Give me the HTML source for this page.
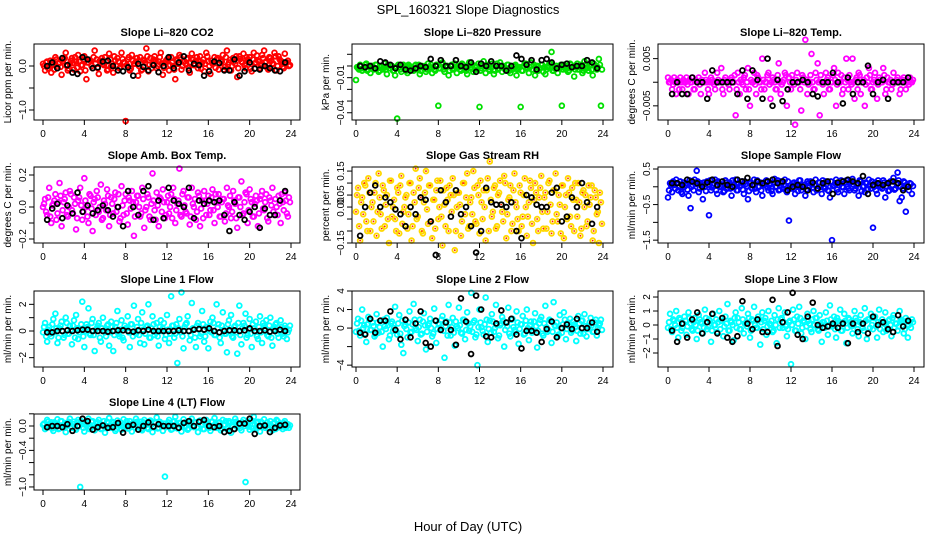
<!DOCTYPE html>
<html><head><meta charset="utf-8"><style>
html,body{margin:0;padding:0;background:#fff;}
svg{display:block;font-family:"Liberation Sans",Arial,sans-serif;}
</style></head><body>
<svg id="chart" width="936" height="540" viewBox="0 0 936 540">
<text x="468" y="14" font-size="13" text-anchor="middle">SPL_160321  Slope Diagnostics</text>
<text x="468" y="531" font-size="13" text-anchor="middle">Hour of Day (UTC)</text>
</svg>
<script>
// shared x positions (hours)
const xTicks = [0,4,8,12,16,20,24];
const coloredHours = Array.from({length:120},(_, i)=>i*0.2);
const coreHours = Array.from({length:120},(_, i)=>0.1+i*0.2);
const blackHours = Array.from({length:48},(_, i)=>0.4+i*0.49);

// Panel 1: CO2
const co2Colored = [0.05,-0.1,0.1,0.0,-0.15,0.12,0.2,-0.05,0.08,-0.2,0.15,0.3,-0.1,0.05,0.18,-0.08,0.1,0.25,-0.12,0.02,0.22,-0.3,0.08,0.12,-0.05,0.35,0.15,-0.18,0.1,0.05,0.2,-0.1,0.28,0.0,-0.15,0.12,0.18,-0.05,0.3,0.08,-1.25,0.15,-0.1,0.25,0.05,0.1,-0.22,0.2,-0.08,0.12,0.4,-0.12,0.18,0.05,0.22,-0.05,0.1,0.3,-0.2,0.08,0.15,-0.1,0.2,0.0,-0.3,0.12,0.25,-0.08,0.1,0.05,0.18,-0.15,0.28,0.02,0.12,-0.05,0.22,0.08,-0.12,0.3,0.1,-0.18,0.05,0.2,0.15,-0.08,0.12,0.25,-0.02,0.35,0.08,-0.1,0.18,0.05,-0.25,0.22,0.1,0.28,-0.05,0.15,0.2,-0.12,0.3,0.08,0.12,-0.05,0.25,0.35,0.1,-0.08,0.18,0.05,0.3,-0.1,0.22,0.12,-0.02,0.28,0.08,0.0];
const co2Core = [0.0,0.08,-0.05,0.12,0.03,-0.08,0.15,0.05,-0.02,0.1,0.18,0.0,-0.06,0.12,0.07,0.2,-0.04,0.1,0.02,0.15,-0.1,0.08,0.14,0.0,0.2,0.06,-0.05,0.12,0.18,0.02,0.1,-0.08,0.15,0.05,0.22,0.0,0.1,-0.03,0.16,0.08,0.02,0.2,-0.06,0.12,0.05,0.18,0.0,-0.1,0.14,0.08,0.22,0.03,-0.05,0.15,0.1,0.0,0.2,0.06,-0.04,0.12,0.18,0.02,0.08,-0.08,0.15,0.05,0.2,0.0,0.1,0.16,-0.05,0.08,0.14,0.02,0.2,0.1,-0.06,0.15,0.05,0.22,0.0,0.12,0.08,-0.04,0.18,0.06,0.1,-0.08,0.2,0.03,0.14,0.0,0.1,0.22,-0.05,0.16,0.08,0.02,0.2,0.12,-0.06,0.15,0.05,0.24,0.1,0.0,0.18,0.08,-0.04,0.2,0.12,0.05,0.22,0.0,0.15,0.1,-0.05,0.08,0.12,0.02];
const co2Black = [0.0,0.08,-0.05,0.18,0.02,-0.15,-0.18,0.2,0.15,-0.05,-0.03,0.1,0.12,0.0,-0.1,-0.12,-0.03,-0.22,0.05,-0.02,-0.1,0.02,-0.14,-0.0,0.2,-0.05,0.08,0.22,-0.1,0.05,0.02,-0.22,-0.12,0.1,0.07,-0.1,-0.1,0.15,-0.22,-0.12,0.08,-0.06,-0.08,0.0,-0.05,-0.1,-0.12,0.08];
// Panel 2: Pressure
const presColored = [-0.012,-0.002,0.001,-0.004,-0.001,0.002,-0.003,-0.006,0.0,-0.002,0.001,-0.005,-0.001,-0.003,0.002,-0.007,-0.002,0.0,-0.004,-0.008,-0.045,-0.001,-0.005,0.001,-0.003,-0.006,0.0,-0.002,-0.004,0.001,-0.003,-0.007,0.0,-0.002,-0.005,0.002,-0.001,-0.006,-0.003,0.001,-0.034,-0.002,0.003,-0.005,-0.001,-0.008,0.0,-0.003,0.002,-0.006,-0.001,-0.004,0.001,-0.002,-0.007,0.003,-0.001,-0.005,0.0,-0.003,-0.035,-0.002,0.004,-0.006,-0.001,-0.004,0.002,-0.007,0.0,-0.003,0.003,-0.005,-0.001,-0.002,0.001,-0.006,-0.003,0.0,-0.008,-0.002,-0.035,-0.004,0.002,-0.001,-0.006,0.003,-0.003,-0.008,0.0,-0.002,0.001,-0.005,-0.007,-0.001,0.002,0.012,-0.004,0.0,-0.006,-0.002,-0.034,0.001,-0.003,-0.005,0.002,-0.001,-0.009,0.0,-0.003,0.001,-0.006,0.004,-0.002,-0.004,0.001,-0.008,0.0,-0.003,0.006,-0.034];
const presCore = [-0.001,-0.003,0.0,-0.002,0.001,-0.004,-0.001,0.0,-0.003,0.001,-0.002,-0.004,0.0,-0.001,-0.003,0.001,-0.002,0.0,-0.004,-0.001,0.001,-0.003,0.0,-0.002,-0.004,0.001,-0.001,-0.003,0.0,-0.002,0.001,-0.004,-0.001,0.0,-0.003,-0.002,0.001,-0.001,-0.004,0.0,-0.002,0.002,-0.003,-0.001,0.0,-0.004,0.001,-0.002,-0.001,0.0,-0.003,0.002,-0.001,-0.004,0.0,-0.002,0.001,-0.003,-0.001,0.002,-0.004,0.0,-0.002,0.001,-0.003,-0.001,0.0,-0.004,0.002,-0.002,-0.001,0.0,-0.003,0.001,-0.004,-0.002,0.0,0.001,-0.003,-0.001,-0.004,0.0,0.002,-0.002,-0.001,-0.003,0.001,0.0,-0.004,-0.002,0.001,-0.001,-0.003,0.0,0.002,-0.004,-0.002,0.0,-0.001,0.001,-0.003,-0.002,0.0,-0.004,0.001,-0.001,-0.003,0.002,0.0,-0.002,-0.004,0.001,-0.001,0.0,-0.003,0.002,-0.002,-0.001,0.001,-0.003];
const presBlack = [0.0,-0.001,0.0,-0.002,0.004,0.003,0.001,-0.002,0.001,-0.003,-0.004,-0.002,0.0,-0.001,0.006,0.0,0.005,0.0,0.0,0.005,0.0,-0.001,0.003,-0.005,0.002,0.0,0.004,0.0,0.0,-0.004,0.0,0.009,0.006,0.001,0.005,-0.003,0.005,0.006,0.003,-0.002,0.001,0.002,-0.001,0.0,0.0,0.005,0.003,-0.002];
// Panel 3: Li-820 Temp
const tempColored = [0.001,0.0,-0.0015,0.001,-0.0025,0.0,0.001,-0.0015,0.0,0.001,-0.0025,0.0,0.001,-0.0015,0.0,0.001,-0.0025,0.0,0.002,0.0,-0.0025,0.001,0.0,-0.0015,0.002,0.0,0.003,-0.0025,0.001,0.0,-0.0015,0.001,0.0,-0.007,0.002,-0.0025,0.0,0.001,-0.0015,0.003,-0.005,0.0,0.002,-0.0025,0.001,0.0,0.005,-0.0015,0.0,0.002,-0.0035,0.001,0.0,-0.0015,0.004,-0.0025,0.0,0.002,-0.005,0.001,-0.0015,0.0,-0.009,0.002,0.0,-0.006,0.001,0.009,-0.0025,0.0,0.006,-0.0015,0.002,0.004,-0.007,0.0,-0.0025,0.002,0.001,-0.0015,0.0,0.003,-0.005,0.002,0.0,-0.0025,0.001,0.005,-0.0015,0.0,0.005,-0.0035,0.001,0.002,-0.0025,0.0,-0.005,0.001,0.003,-0.0015,0.0,0.002,-0.0035,0.001,0.0,0.003,-0.0025,0.001,0.0,-0.0015,0.002,0.0,0.001,-0.0025,0.0,0.001,-0.0015,0.0,0.001,0.0];
const tempCore = [0.0,0.0005,-0.0005,0.0,0.0005,-0.0015,0.0,0.0005,0.0,-0.0005,0.0005,0.0,-0.0015,0.0005,0.0,-0.0005,0.0005,0.0,0.0005,-0.0015,0.0,0.0005,-0.0005,0.0,0.0005,0.0,-0.0015,0.0005,0.0,-0.0005,0.0005,0.0,0.0015,-0.0015,0.0,0.0005,-0.0005,0.0015,0.0,-0.0015,0.0005,0.0,-0.0005,0.0015,0.0,-0.0015,0.0005,0.0,0.0015,-0.0005,0.0,0.0005,-0.0015,0.0015,0.0,-0.0005,0.0005,0.0015,-0.0015,0.0,0.0015,-0.0005,0.0005,0.0,-0.0015,0.0015,0.0,0.0005,-0.0005,0.0015,0.0,-0.0015,0.0005,0.0,0.0015,-0.0005,0.0,0.0005,-0.0015,0.0,0.0015,0.0005,-0.0005,0.0,0.0015,-0.0015,0.0,0.0005,0.0015,-0.0005,0.0,0.0005,-0.0015,0.0015,0.0,0.0005,-0.0005,0.0,0.0015,-0.0015,0.0005,0.0,-0.0005,0.0005,0.0,0.0015,-0.0015,0.0,0.0005,-0.0005,0.0,0.0005,0.0,-0.0015,0.0005,0.0,0.0005,-0.0005,0.0,0.0005];
const tempBlack = [-0.0025,0.0,-0.0025,-0.0025,0.001,0.0,0.0,-0.0035,0.0025,0.0,0.0,-0.0,0.0,-0.0025,0.0025,-0.0035,0.0025,0.0005,-0.0035,0.005,-0.005,0.0005,-0.004,-0.0015,0.0,0.0,0.0005,0.0,-0.0025,-0.003,0.0,0.0,0.002,0.0,-0.0045,0.001,-0.0025,0.0,0.0,0.0035,-0.0025,0.0,0.0005,-0.0035,0.0,0.0,0.0,0.001];
// Panel 4: Amb box temp
const ambColored = [0.0,0.05,-0.05,0.12,-0.1,0.02,0.08,-0.04,0.15,-0.12,0.03,0.09,-0.06,0.1,-0.02,0.06,-0.14,0.04,0.12,-0.08,0.18,0.0,-0.1,0.07,-0.15,0.05,0.1,-0.03,0.14,-0.07,0.02,0.11,-0.12,0.06,-0.04,0.09,0.0,-0.09,0.13,-0.05,0.08,-0.11,0.04,0.1,-0.18,0.03,0.07,-0.06,0.12,-0.13,0.0,0.06,-0.08,0.21,-0.02,0.09,-0.12,0.05,0.11,-0.07,0.03,-0.04,0.08,0.12,-0.1,0.02,0.24,-0.06,0.1,-0.03,0.06,-0.11,0.12,0.0,-0.08,0.09,-0.12,0.04,0.1,-0.05,0.07,-0.02,0.11,-0.1,0.03,0.08,-0.06,0.05,-0.09,0.12,0.0,-0.07,0.1,0.02,-0.13,0.06,0.16,-0.04,0.09,-0.1,0.11,0.03,-0.06,0.07,-0.12,0.05,0.1,-0.02,0.08,-0.09,0.04,0.12,-0.05,0.0,0.07,-0.1,0.03,0.09,-0.04,0.06];
const ambCore = [0.02,-0.03,0.06,-0.06,0.01,0.04,-0.08,0.03,0.07,-0.02,0.05,-0.05,0.0,0.08,-0.04,0.02,-0.07,0.06,0.01,-0.03,0.04,-0.06,0.08,-0.01,0.03,-0.05,0.06,0.0,-0.08,0.04,-0.02,0.07,-0.05,0.02,0.05,-0.03,0.08,-0.07,0.01,0.04,-0.04,0.06,-0.01,0.03,-0.06,0.07,0.0,-0.04,0.05,-0.02,0.08,-0.06,0.02,0.04,-0.08,0.01,0.06,-0.03,0.03,-0.05,0.07,0.0,-0.07,0.05,-0.02,0.04,-0.05,0.08,0.01,-0.04,0.06,-0.06,0.02,0.05,-0.03,0.07,-0.01,-0.07,0.04,0.02,-0.05,0.06,-0.02,0.08,0.0,-0.06,0.03,0.05,-0.04,0.01,0.07,-0.03,0.04,-0.07,0.06,0.0,-0.05,0.03,0.08,-0.02,0.05,-0.06,0.02,0.04,-0.04,0.07,-0.01,0.03,-0.07,0.06,0.01,-0.03,0.05,-0.05,0.02,0.08,-0.02,0.04,-0.06,0.03];
const ambBlack = [-0.08,-0.01,0.02,-0.07,0.01,-0.04,0.09,-0.03,0.01,-0.04,-0.02,0.01,-0.02,-0.06,0.0,-0.12,0.1,0.0,-0.05,0.1,0.13,-0.08,0.04,-0.07,0.12,0.04,0.02,0.0,0.12,-0.07,0.04,0.02,0.04,0.03,0.04,-0.05,-0.15,0.03,-0.05,-0.08,-0.03,0.0,-0.13,-0.01,-0.05,-0.05,0.04,0.1];
// Panel 5: Gas stream RH
const rhColored = [-0.02,0.08,-0.14,0.04,0.1,-0.06,0.12,-0.1,0.02,0.06,-0.12,0.14,-0.03,0.09,-0.08,0.05,-0.15,0.11,0.0,-0.05,0.08,-0.11,0.13,-0.02,0.04,-0.09,0.1,-0.14,0.06,0.16,-0.04,0.12,-0.1,0.02,0.15,-0.07,0.09,-0.13,0.03,0.07,-0.05,0.11,-0.16,0.01,0.08,-0.1,0.05,0.12,-0.18,0.0,0.06,-0.12,0.1,-0.03,0.14,-0.08,0.04,0.15,-0.06,0.09,-0.11,0.02,0.07,-0.14,0.12,0.19,-0.04,0.08,-0.09,0.05,0.11,-0.02,0.13,-0.13,0.03,0.09,-0.07,0.14,0.0,-0.1,0.06,-0.04,0.12,-0.12,0.02,0.08,-0.15,0.1,-0.05,0.04,0.13,-0.09,0.06,-0.02,0.11,-0.11,0.07,0.14,-0.06,0.01,0.09,-0.13,0.05,0.12,-0.04,0.08,-0.1,0.03,0.1,-0.12,0.06,0.0,-0.08,0.09,0.04,-0.14,0.07,-0.03,-0.15,0.02];
const rhCore = [0.05,-0.08,0.02,-0.03,0.09,-0.1,0.06,0.0,-0.06,0.1,-0.02,0.04,-0.09,0.07,0.01,-0.05,0.11,-0.04,0.03,-0.1,0.06,0.09,-0.07,0.0,0.05,-0.03,0.1,-0.08,0.02,-0.05,0.08,0.04,-0.11,0.06,-0.01,0.09,-0.06,0.03,-0.09,0.11,0.0,-0.04,0.07,-0.08,0.03,0.09,-0.02,0.05,-0.1,0.06,0.01,-0.06,0.1,0.04,-0.09,0.02,-0.03,0.08,-0.07,0.05,0.11,-0.05,0.0,0.07,-0.1,0.03,-0.02,0.09,-0.08,0.06,0.01,-0.06,0.1,-0.03,0.04,-0.1,0.07,0.02,-0.05,0.09,-0.08,0.05,0.0,-0.04,0.11,-0.07,0.03,0.06,-0.1,0.08,-0.02,0.04,-0.09,0.1,0.01,-0.06,0.07,-0.03,0.05,-0.11,0.09,0.0,-0.05,0.06,-0.08,0.03,0.1,-0.04,0.02,-0.09,0.07,0.05,-0.06,0.01,0.09,-0.1,0.04,-0.02,0.06,-0.07];
const rhBlack = [-0.12,0.0,0.06,0.09,0.0,0.04,0.02,-0.01,-0.03,-0.08,0.0,-0.03,0.04,0.03,-0.06,-0.2,0.07,0.02,-0.04,0.07,-0.03,0.0,-0.08,-0.19,-0.1,0.08,0.02,0.01,0.01,0.0,0.02,-0.1,-0.13,0.05,0.04,0.01,0.0,0.0,0.06,0.08,-0.06,-0.04,0.04,0.0,0.1,0.02,-0.07,0.0];
// Panel 6: Sample flow
const flowColored = [-0.3,0.1,-0.15,0.05,0.2,-0.1,0.15,-0.2,0.0,0.1,-0.25,-0.6,0.05,0.2,0.45,-0.15,0.1,-0.35,0.0,0.15,-0.8,-0.1,0.05,0.2,-0.2,0.1,0.0,-0.15,0.18,-0.05,0.12,-0.25,0.05,0.2,-0.1,0.0,0.15,-0.2,0.08,-0.35,0.1,-0.05,0.2,-0.15,0.0,0.12,-0.25,0.05,0.18,-0.1,0.1,-0.2,0.22,0.0,-0.1,0.15,-0.05,0.2,-0.15,-0.95,0.05,0.1,-0.2,0.0,0.18,-0.1,0.05,-0.25,0.15,0.0,0.1,-0.15,0.2,-0.05,0.12,-0.2,0.0,0.15,-0.1,-0.3,-1.5,0.05,0.2,-0.15,0.1,0.0,-0.2,0.18,-0.05,0.12,0.22,-0.1,0.05,-0.25,0.15,0.0,-0.15,0.1,0.2,-0.05,-1.15,0.12,-0.2,0.05,0.0,0.18,-0.3,0.1,-0.1,0.15,0.25,-0.05,0.4,-0.4,-0.3,0.15,-0.7,0.0,0.1,-0.2];
const flowCore = [-0.1,0.05,0.15,-0.05,0.1,0.0,-0.15,0.12,0.05,-0.08,0.18,0.0,-0.1,0.08,0.15,-0.05,0.02,0.12,-0.12,0.06,0.18,-0.02,0.1,-0.1,0.15,0.0,0.05,-0.12,0.12,0.08,-0.05,0.18,0.0,-0.1,0.1,0.05,-0.08,0.15,0.02,-0.12,0.12,0.06,-0.05,0.18,0.0,-0.1,0.08,0.15,-0.02,0.05,-0.12,0.12,0.0,0.18,-0.08,0.1,0.05,-0.1,0.15,0.02,-0.05,0.12,0.08,-0.12,0.18,0.0,0.05,-0.08,0.1,0.15,-0.02,0.06,-0.1,0.12,0.0,0.18,-0.05,0.08,-0.12,0.15,0.02,0.1,-0.08,0.05,0.18,-0.02,0.12,0.0,-0.1,0.15,0.06,-0.05,0.1,0.18,-0.12,0.02,0.12,-0.08,0.05,0.15,0.0,-0.1,0.18,0.08,-0.05,0.12,0.02,-0.12,0.15,0.05,-0.08,0.1,0.18,0.0,-0.05,0.12,0.06,-0.1,0.08,0.02];
const flowBlack = [0.1,0.1,0.05,0.2,0.15,0.1,0.0,0.12,0.2,0.05,0.15,0.05,0.0,0.2,0.15,0.25,0.05,0.15,0.1,0.15,0.2,0.1,0.15,-0.1,0.0,0.05,0.0,-0.1,0.12,-0.05,0.1,0.15,-0.2,0.12,0.15,0.2,0.15,0.1,0.3,-0.2,0.05,0.1,0.05,0.1,0.15,0.1,-0.1,0.0];
// Panel 7: Line 1 flow
const l1Colored = [-0.1,0.6,-0.8,0.3,-0.4,0.9,1.3,-0.9,0.2,0.7,-0.5,1.0,-0.2,0.4,-1.0,0.8,1.2,-0.6,0.1,2.2,-1.2,0.5,1.7,-0.3,0.9,-1.5,0.2,0.6,-0.8,1.0,-0.1,0.4,-1.1,0.7,-1.5,0.3,1.5,-0.4,0.8,-0.7,0.2,1.1,-1.2,0.5,1.9,-0.2,0.9,-0.9,1.4,-1.0,0.3,2.0,-0.5,1.1,-0.3,0.6,-1.1,0.8,0.2,-0.6,1.2,-0.9,2.6,0.4,-0.2,-2.4,0.9,2.9,-1.3,0.5,1.1,-0.7,2.1,0.1,-1.2,0.6,-0.4,1.5,-0.8,0.3,-1.3,0.7,1.0,-0.3,2.0,0.5,-0.9,1.4,-0.2,-1.6,0.8,1.2,-0.5,0.4,-1.7,1.9,-1.0,0.6,1.3,-0.3,0.9,-1.2,0.2,0.7,-0.6,1.1,-0.9,0.4,0.8,-0.4,1.0,-1.1,0.3,0.6,-0.5,0.8,-0.2,0.4,-0.6,0.1];
const l1Core = [0.3,-0.4,0.1,-0.2,0.5,-0.1,0.2,-0.5,0.4,0.0,-0.3,0.6,-0.2,0.1,0.4,-0.5,0.2,-0.1,0.5,-0.4,0.0,0.3,-0.2,0.6,-0.3,0.1,0.4,-0.5,0.2,0.0,-0.4,0.5,-0.1,0.3,-0.3,0.6,-0.2,0.1,-0.5,0.4,0.2,-0.1,0.5,-0.4,0.0,0.3,-0.3,0.6,0.1,-0.2,0.4,-0.5,0.2,0.5,-0.1,-0.4,0.3,0.0,0.6,-0.3,0.1,-0.2,0.4,-0.5,0.5,0.2,-0.1,-0.4,0.3,0.6,0.0,-0.3,0.2,-0.5,0.4,0.1,-0.2,0.5,-0.4,0.3,0.0,-0.1,0.6,-0.3,0.2,-0.5,0.4,0.1,-0.2,0.5,0.0,-0.4,0.3,-0.1,0.6,-0.3,0.2,0.4,-0.5,0.1,-0.2,0.5,0.0,-0.4,0.3,-0.1,0.6,0.2,-0.3,0.4,-0.5,0.1,0.5,-0.2,0.0,0.3,-0.4,0.2,-0.1,0.4];
const l1Black = [-0.1,-0.1,0.0,0.0,0.05,0.0,0.05,0.1,0.1,0.0,0.0,0.0,-0.05,0.0,0.05,0.05,0.0,-0.05,0.05,0.0,0.1,0.0,0.0,0.0,0.0,0.0,0.05,0.0,0.0,0.1,0.15,0.1,0.2,0.0,-0.1,0.0,0.05,0.05,0.0,0.05,0.2,0.0,0.0,0.05,-0.05,0.0,0.1,0.0];
// Panel 8: Line 2 flow
const l2Colored = [-0.4,1.0,-0.8,2.0,0.3,-1.5,1.2,-0.2,0.6,-0.9,1.5,-0.5,0.8,-2.0,0.2,1.1,-1.2,0.5,-0.3,2.3,-0.7,1.4,-1.8,-2.7,0.4,-1.0,1.8,-0.4,2.6,0.0,-1.4,0.9,-0.6,1.6,-2.3,0.3,1.0,-0.9,2.1,-1.6,0.5,-0.2,1.3,-3.2,0.7,2.5,-0.8,1.1,-1.9,0.2,2.2,-0.5,0.9,-1.2,1.7,-0.3,3.8,0.6,-1.0,-4.0,2.0,0.1,-0.7,3.3,-1.5,0.8,1.5,-0.4,2.5,-1.1,0.3,1.2,-2.0,0.6,2.2,-0.9,1.0,-0.2,1.8,-1.7,0.4,1.3,-0.6,2.0,-1.3,0.7,-0.3,1.6,-2.1,0.5,1.2,-0.8,2.4,-0.4,0.9,-1.6,2.8,0.2,-0.9,1.4,-0.5,1.7,-1.2,0.6,1.0,-0.3,0.4,-1.4,1.3,-0.6,0.8,1.5,-0.9,0.2,1.1,-0.4,0.6,-0.8,0.3,0.9];
const l2Core = [0.5,-0.3,0.8,0.0,-0.6,0.4,0.9,-0.2,0.2,-0.7,0.6,0.1,-0.4,0.9,-0.1,0.3,-0.8,0.7,0.0,-0.3,0.5,-0.6,0.8,0.2,-0.1,0.6,-0.5,0.4,0.9,-0.2,0.1,-0.7,0.7,0.3,-0.4,0.5,0.0,-0.6,0.8,-0.1,0.4,0.9,-0.3,0.2,-0.8,0.6,0.1,-0.5,0.7,0.0,0.3,-0.6,0.9,-0.2,0.5,0.2,-0.4,0.8,-0.7,0.1,0.6,-0.3,0.4,0.9,-0.1,-0.5,0.7,0.0,0.3,-0.8,0.5,0.8,-0.2,0.2,-0.6,0.9,0.1,-0.4,0.6,-0.1,0.4,-0.7,0.8,0.0,0.3,-0.5,0.7,0.2,-0.3,0.9,-0.6,0.5,0.1,-0.2,0.8,-0.4,0.3,0.6,-0.7,0.0,0.4,0.9,-0.1,0.2,-0.5,0.7,0.1,-0.3,0.5,0.8,-0.6,0.2,-0.1,0.6,0.3,-0.4,0.9,0.0,0.5,-0.2];
const l2Black = [-0.5,-0.7,1.0,-0.5,0.8,0.8,1.8,-0.2,-1.2,0.9,-1.0,0.5,1.8,-1.6,-2.0,0.8,-0.2,0.6,-0.2,-1.8,3.2,0.7,-2.8,3.5,2.0,-0.9,-1.0,0.5,1.9,0.6,1.0,-0.7,-2.2,-0.3,-0.3,-0.5,-1.5,-0.1,0.7,-1.0,0.0,0.4,-0.1,1.0,0.0,0.0,0.6,-0.4];
// Panel 9: Line 3 flow
const l3Colored = [-0.2,0.8,-0.5,0.3,1.0,-0.9,0.4,-0.2,0.6,-0.7,0.9,0.1,-0.4,0.5,-1.0,0.7,0.2,-0.6,1.1,-0.3,0.4,-1.2,0.8,0.0,-0.5,1.0,0.3,-0.8,0.6,1.5,-0.4,0.2,-1.1,0.9,0.5,-0.3,1.2,-0.6,0.1,0.8,-0.9,0.4,1.3,-0.2,0.6,-1.4,0.9,0.3,-0.7,1.0,0.0,-0.5,0.7,-1.3,1.2,0.4,-0.2,0.9,-0.8,0.2,-2.8,1.1,-0.4,0.6,1.3,-0.6,0.3,-1.0,0.8,0.1,-0.5,1.0,0.5,-0.3,0.7,-1.2,0.2,0.9,-0.7,1.4,-0.1,0.6,-0.9,0.3,1.1,-0.4,0.8,-1.3,0.5,0.0,-0.6,1.0,0.3,-0.8,0.7,-0.2,1.2,-1.0,0.4,0.8,-0.3,0.6,-0.9,1.1,0.2,-0.5,0.9,-0.2,0.4,-0.8,0.7,0.1,-0.4,1.0,0.3,-0.6,0.5,-0.9,0.2,0.4];
const l3Core = [0.2,-0.3,0.4,0.0,-0.2,0.5,-0.4,0.1,0.3,-0.1,0.5,-0.3,0.2,0.0,-0.4,0.4,0.1,-0.2,0.5,-0.1,0.3,-0.4,0.0,0.4,0.2,-0.3,0.5,-0.1,0.1,-0.4,0.3,0.0,0.5,-0.2,0.2,-0.3,0.4,0.1,-0.1,0.5,-0.4,0.3,0.0,-0.2,0.4,0.2,-0.3,0.5,-0.1,0.1,0.3,-0.4,0.0,0.4,-0.2,0.5,0.2,-0.1,-0.3,0.3,0.0,0.4,-0.4,0.1,0.5,-0.2,0.2,-0.1,0.3,-0.3,0.4,0.0,0.5,-0.4,0.1,0.2,-0.2,0.3,-0.1,0.4,0.0,-0.3,0.5,0.1,-0.4,0.2,0.3,-0.2,0.4,-0.1,0.0,0.5,-0.3,0.2,0.1,-0.4,0.3,0.4,-0.2,0.0,0.5,-0.1,0.2,-0.3,0.4,0.1,-0.4,0.3,0.0,0.5,-0.2,0.1,-0.1,0.4,0.2,-0.3,0.3,0.0,-0.2,0.2];
const l3Black = [-0.4,-1.2,0.1,-0.9,0.4,0.9,-0.6,0.2,0.8,-0.6,0.5,-0.9,-1.2,-0.8,1.7,0.1,-0.3,0.4,-0.5,-0.5,1.8,-1.5,0.2,0.9,2.3,-0.7,-1.0,0.6,1.6,0.0,-0.2,-0.1,0.1,-0.2,0.1,-1.3,0.1,-0.5,0.1,-0.6,0.6,0.0,0.2,-0.3,-0.5,0.7,-0.1,0.3];
// Panel 10: Line 4 (LT) flow
const l4Colored = [0.02,-0.05,0.1,-0.02,0.06,-0.08,0.04,0.11,-0.04,0.08,0.0,-0.1,0.05,0.12,-0.03,0.07,-0.06,0.1,-1.0,0.03,-0.09,0.06,0.12,-0.02,0.08,-0.07,0.04,0.1,-0.05,0.01,-0.11,0.07,0.13,-0.03,0.05,-0.08,0.09,0.02,-0.06,0.11,0.0,-0.04,0.08,-0.09,0.05,0.12,-0.02,0.07,-0.07,0.1,0.03,-0.05,0.09,-0.1,0.06,0.14,-0.03,0.04,-0.08,-0.83,0.02,0.1,-0.06,0.07,0.15,-0.04,0.05,-0.09,0.11,0.0,-0.06,0.08,0.12,-0.02,0.06,-0.1,0.09,0.03,-0.05,0.1,0.01,-0.08,0.07,0.13,-0.03,0.05,-0.07,0.1,0.02,-0.05,0.08,-0.11,0.06,0.12,-0.02,0.04,-0.07,0.1,-0.92,0.03,-0.06,0.09,0.15,-0.03,0.07,-0.09,0.05,0.11,0.0,-0.04,0.08,-0.07,0.06,0.1,-0.02,0.04,-0.05,0.08,0.01,-0.03];
const l4Core = [0.04,-0.02,0.07,0.0,-0.04,0.06,0.02,-0.05,0.08,0.01,-0.03,0.05,0.07,-0.01,0.03,-0.04,0.06,0.0,0.08,-0.03,0.02,0.05,-0.05,0.07,0.01,-0.02,0.06,0.03,-0.04,0.08,0.0,0.05,-0.03,0.07,0.02,-0.05,0.04,0.06,-0.01,0.03,0.08,-0.04,0.01,0.05,-0.02,0.07,0.0,-0.05,0.06,0.03,-0.03,0.08,0.02,-0.01,0.05,-0.04,0.07,0.01,0.04,-0.02,0.06,0.0,-0.05,0.08,0.03,-0.03,0.05,0.02,-0.01,0.07,-0.04,0.04,0.0,0.06,-0.02,0.08,0.01,-0.05,0.05,0.03,-0.03,0.07,0.0,0.04,-0.01,0.06,-0.04,0.02,0.08,-0.02,0.05,0.01,-0.05,0.07,0.03,-0.03,0.06,0.0,0.04,-0.01,0.08,-0.04,0.02,0.05,-0.02,0.07,0.01,-0.03,0.06,0.03,0.0,0.04,-0.05,0.08,0.02,-0.01,0.05,-0.03,0.03,0.01];
const l4Black = [-0.02,0.0,0.0,-0.02,0.03,-0.08,0.0,0.12,0.08,-0.06,-0.02,0.01,-0.03,-0.02,0.05,-0.11,0.0,0.02,-0.06,0.0,0.06,-0.01,0.03,0.0,0.0,0.0,-0.03,0.05,0.08,0.0,0.07,0.1,0.0,-0.02,0.0,-0.1,-0.08,-0.05,0.04,0.04,0.12,-0.13,0.0,0.01,-0.1,-0.03,0.01,0.02];

const svg = document.getElementById('chart');
const NS = 'http://www.w3.org/2000/svg';
function mk(tag, attrs, parent){const e=document.createElementNS(NS,tag);for(const k in attrs)e.setAttribute(k,attrs[k]);(parent||svg).appendChild(e);return e;}

const cols = [{bx0:34,bx1:300,h0:43,h24:291,lab:11},{bx0:352,bx1:613,h0:356,h24:603,lab:329},{bx0:658,bx1:924,h0:668,h24:914,lab:635}];
const rowTops = [44,167,291,414];
const panels = [
 {key:'co2',title:'Slope Li–820 CO2',ylab:'Licor ppm per min.',c:0,r:0,ylim:[-1.227,0.5],ticks:[0,-0.5,-1],tl:['0.0','','−1.0'],col:'#ff0000',cv:co2Colored,kv:co2Core,bv:co2Black},
 {key:'pressure',title:'Slope Li–820 Pressure',ylab:'kPa per min.',c:1,r:0,ylim:[-0.0462,0.0188],ticks:[0.01,0,-0.01,-0.02,-0.03,-0.04],tl:['','','−0.01','','','−0.04'],col:'#00e000',cv:presColored,kv:presCore,bv:presBlack},
 {key:'temp',title:'Slope Li–820 Temp.',ylab:'degrees C per min.',c:2,r:0,ylim:[-0.008,0.0081],ticks:[0.005,0,-0.005],tl:['0.005','','−0.005'],col:'#ff00ff',cv:tempColored,kv:tempCore,bv:tempBlack},
 {key:'amb',title:'Slope Amb. Box Temp.',ylab:'degrees C per min.',c:0,r:1,ylim:[-0.225,0.25],ticks:[0.2,0.1,0,-0.1,-0.2],tl:['0.2','','0.0','','−0.2'],col:'#ff00ff',cv:ambColored,kv:ambCore,bv:ambBlack},
 {key:'rh',title:'Slope Gas Stream RH',ylab:'percent per min.',c:1,r:1,ylim:[-0.15,0.167],ticks:[0.15,0.1,0.05,0,-0.05,-0.1,-0.15],tl:['0.15','','0.05','0.00','','','−0.15'],col:'#ffd800',cv:rhColored,kv:rhCore,bv:rhBlack,dot:'#ff2000'},
 {key:'sample-flow',title:'Slope Sample Flow',ylab:'ml/min per min.',c:2,r:1,ylim:[-1.58,0.556],ticks:[0.5,0,-0.5,-1,-1.5],tl:['0.5','','−0.5','','−1.5'],col:'#0000ff',cv:flowColored,kv:flowCore,bv:flowBlack},
 {key:'line1',title:'Slope Line 1 Flow',ylab:'ml/min per min.',c:0,r:2,ylim:[-2.7,3.0],ticks:[2,1,0,-1,-2],tl:['2','','0','','−2'],col:'#00ffff',cv:l1Colored,kv:l1Core,bv:l1Black},
 {key:'line2',title:'Slope Line 2 Flow',ylab:'ml/min per min.',c:1,r:2,ylim:[-4.2,4.0],ticks:[4,2,0,-2,-4],tl:['4','2','0','','−4'],col:'#00ffff',cv:l2Colored,kv:l2Core,bv:l2Black},
 {key:'line3',title:'Slope Line 3 Flow',ylab:'ml/min per min.',c:2,r:2,ylim:[-3.0,2.43],ticks:[2,1,0,-1,-2],tl:['2','1','0','−1','−2'],col:'#00ffff',cv:l3Colored,kv:l3Core,bv:l3Black},
 {key:'line4',title:'Slope Line 4 (LT) Flow',ylab:'ml/min per min.',c:0,r:3,ylim:[-1.05,0.197],ticks:[0.2,0,-0.2,-0.4,-0.6,-0.8,-1.0],tl:['','0.0','','−0.4','','','−1.0'],col:'#00ffff',cv:l4Colored,kv:l4Core,bv:l4Black}
];

panels.forEach(p=>{
  const C=cols[p.c], top=rowTops[p.r], bot=top+76;
  const xs=h=>C.h0+(h/24)*(C.h24-C.h0);
  const ys=v=>bot-(v-p.ylim[0])/(p.ylim[1]-p.ylim[0])*(bot-top);
  const g=mk('g',{});
  
  
  const t=mk('text',{x:(C.bx0+C.bx1)/2,y:top-8,'font-size':11,'font-weight':'bold','text-anchor':'middle'},g);
  t.textContent=p.title;
  
  
  const yl=mk('text',{x:C.lab,y:(top+bot)/2,'font-size':10,'text-anchor':'middle',transform:`rotate(-90 ${C.lab} ${(top+bot)/2})`},g);
  yl.textContent=p.ylab;
  
  
  const pts=mk('g',{},g);
  
  
  const drawColored=(vals,hours)=>vals.forEach((v,i)=>{
    const cx=xs(hours[i]), cy=ys(v);
    const c=mk('circle',{cx:cx,cy:cy,r:2.4,fill:'none',stroke:p.col,'stroke-width':1.8},pts);
    
    
    if(p.dot){mk('circle',{cx:cx,cy:cy,r:0.9,fill:p.dot},pts);}
  });
  drawColored(p.kv, coreHours);
  drawColored(p.cv, coloredHours);
  const bp=mk('g',{},g);
  
  
  p.bv.forEach((v,i)=>{
    const c=mk('circle',{cx:xs(blackHours[i]),cy:ys(v),r:2.4,fill:'none',stroke:'#000','stroke-width':1.8},bp);
    
    
  });
  const box=mk('rect',{x:C.bx0,y:top,width:C.bx1-C.bx0,height:bot-top,fill:'none',stroke:'#000','stroke-width':1},g);
  
  
  const xa=mk('g',{},g);
  
  
  xTicks.forEach(h=>{
    mk('line',{x1:xs(h),x2:xs(h),y1:bot,y2:bot+5,stroke:'#000'},xa);
    const l=mk('text',{x:xs(h),y:bot+17,'font-size':10,'text-anchor':'middle'},xa);
    l.textContent=h;
  });
  const ya=mk('g',{},g);
  
  
  p.ticks.forEach((v,i)=>{
    const y=ys(v);
    mk('line',{x1:C.bx0-5,x2:C.bx0,y1:y,y2:y,stroke:'#000'},ya);
    if(p.tl[i]){const l=mk('text',{x:C.bx0-8,y:y,'font-size':10,'text-anchor':'middle',transform:`rotate(-90 ${C.bx0-8} ${y})`},ya);l.textContent=p.tl[i];}
  });
});
</script>
</body></html>
